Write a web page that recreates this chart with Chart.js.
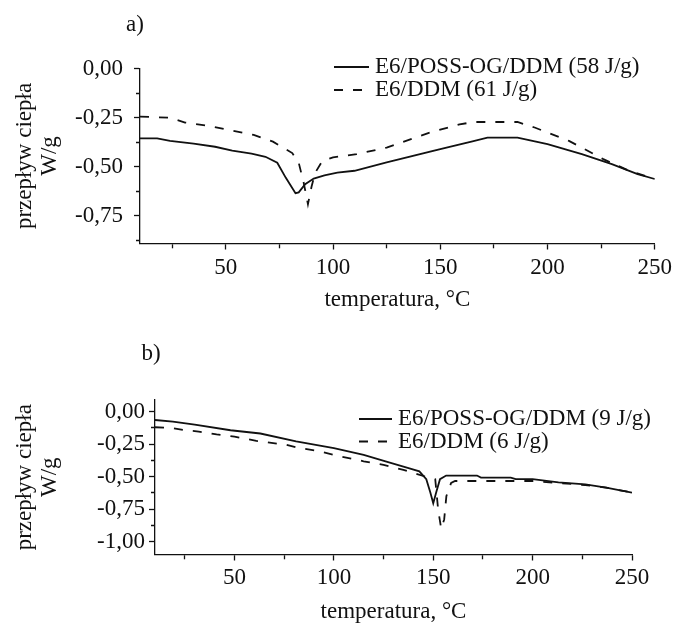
<!DOCTYPE html>
<html lang="pl">
<head>
<meta charset="utf-8">
<title>DSC – E6/POSS-OG/DDM i E6/DDM</title>
<script src="https://cdn.jsdelivr.net/npm/chart.js@4.4.1/dist/chart.umd.min.js"></script>
<style>
    html, body { margin: 0; padding: 0; background: #fff; }
    canvas { position: absolute; left: 0; display: block; }
    #chartA { top: 0; }
    #chartB { top: 320px; }
</style>
</head>
<body>
<canvas id="chartA" width="679" height="320"></canvas>
<canvas id="chartB" width="679" height="304"></canvas>

<script>
// ── Dane: panel a) ────────────────────────────────────────────────────────
const tempA_poss = [10, 18, 24, 35, 45, 53, 62, 68.5, 74, 78, 82.5, 84, 87, 91, 96, 102, 110, 125, 150, 165, 172, 186, 200, 216, 230, 242, 250];
const heatA_poss = [-0.355, -0.355, -0.368, -0.382, -0.398, -0.418, -0.433, -0.449, -0.479, -0.556, -0.634, -0.630, -0.588, -0.560, -0.543, -0.530, -0.520, -0.478, -0.410, -0.370, -0.352, -0.352, -0.385, -0.436, -0.486, -0.537, -0.562];

const tempA_ddm = [10, 24, 31, 41, 51, 63, 72, 81, 84, 86.3, 88.3, 90, 91.7, 95, 100, 111, 125, 145, 159, 166, 186, 194, 200, 210, 226, 238, 250];
const heatA_ddm = [-0.245, -0.250, -0.275, -0.290, -0.312, -0.338, -0.372, -0.430, -0.479, -0.580, -0.690, -0.600, -0.530, -0.470, -0.452, -0.436, -0.402, -0.326, -0.284, -0.272, -0.272, -0.300, -0.326, -0.368, -0.461, -0.520, -0.562];

const seriesA = ['E6/POSS-OG/DDM (58 J/g)', 'E6/DDM (61 J/g)'];

// ── Dane: panel b) ────────────────────────────────────────────────────────
const tempB_poss = [10, 19, 30, 48, 63, 81, 100, 115, 126, 138, 143, 146.5, 148.5, 150, 151.5, 153.4, 156.5, 172, 174, 189, 191.5, 200, 213, 226.5, 237, 250];
const heatB_poss = [-0.064, -0.076, -0.100, -0.143, -0.168, -0.228, -0.280, -0.333, -0.382, -0.436, -0.460, -0.520, -0.620, -0.705, -0.620, -0.520, -0.492, -0.492, -0.508, -0.508, -0.520, -0.520, -0.545, -0.560, -0.585, -0.623];

const tempB_ddm = [10, 19, 24, 32, 41, 50, 61, 76, 81, 91, 103, 115, 125, 135, 146, 151, 152.5, 154, 155.5, 156.6, 159, 161, 200, 211, 226.5, 237, 250];
const heatB_ddm = [-0.120, -0.127, -0.140, -0.153, -0.175, -0.192, -0.225, -0.255, -0.275, -0.300, -0.343, -0.382, -0.410, -0.448, -0.500, -0.520, -0.760, -0.900, -0.830, -0.650, -0.548, -0.534, -0.534, -0.547, -0.565, -0.585, -0.623];

const seriesB = ['E6/POSS-OG/DDM (9 J/g)', 'E6/DDM (6 J/g)'];

// ── Podziałki ─────────────────────────────────────────────────────────────
const tempTicks = [25, 50, 75, 100, 125, 150, 175, 200, 225, 250];
const heatTicksA = [0, -0.125, -0.25, -0.375, -0.5, -0.625, -0.75, -0.875];
const heatTicksB = [0, -0.125, -0.25, -0.375, -0.5, -0.625, -0.75, -0.875, -1];

const FONT = "'Liberation Serif', 'Times New Roman', serif";
const INK  = '#111';

const toPoints = (xs, ys) => xs.map((x, i) => ({ x, y: ys[i] }));
const isMajorT = v => v % 50 === 0;
const isMajorQ = v => Math.abs(v * 4 - Math.round(v * 4)) < 1e-9;
const fmtQ     = v => v.toFixed(2).replace('.', ',');

// Litera panelu i legenda rysowane wewnątrz obszaru wykresu
const panelText = {
    id: 'panelText',
    afterDraw(chart, args, o) {
        const ctx = chart.ctx;
        ctx.save();
        ctx.font = `23px ${FONT}`;
        ctx.fillStyle = INK;
        ctx.textBaseline = 'middle';
        ctx.textAlign = 'center';
        ctx.fillText(o.tag, o.tagX, o.tagY);

        ctx.textAlign = 'left';
        chart.data.datasets.forEach((ds, i) => {
            const y = o.keyY + i * o.keyGap;
            ctx.strokeStyle = ds.borderColor;
            ctx.lineWidth = ds.borderWidth;
            ctx.setLineDash(ds.borderDash || []);
            ctx.beginPath();
            ctx.moveTo(o.keyX, y);
            ctx.lineTo(o.keyX + o.keyLen, y);
            ctx.stroke();
            ctx.setLineDash([]);
            ctx.fillText(ds.label, o.keyX + o.keyLen + 6, y);
        });
        ctx.restore();
    }
};

// Krótsze kreski dla podziałki pomocniczej
const minorX = ctx => (ctx.tick && !isMajorT(ctx.tick.value)) ? [4, 20] : [];
const minorY = ctx => (ctx.tick && !isMajorQ(ctx.tick.value)) ? [0, 2, 4, 20] : [];

function buildChart(id, p) {
    return new Chart(document.getElementById(id), {
        type: 'line',
        data: {
            datasets: [
                { label: p.labels[0], data: toPoints(p.tPoss, p.qPoss), borderColor: INK, borderWidth: 1.8, pointRadius: 0, tension: 0, fill: false },
                { label: p.labels[1], data: toPoints(p.tDdm, p.qDdm), borderColor: INK, borderWidth: 1.8, borderDash: [9, 10], pointRadius: 0, tension: 0, fill: false }
            ]
        },
        options: {
            responsive: false,
            animation: false,
            events: [],
            layout: { padding: { top: p.top, right: p.right, left: 0, bottom: 0 } },
            plugins: {
                legend: { display: false },
                tooltip: { enabled: false },
                panelText: p.text
            },
            scales: {
                x: {
                    type: 'linear',
                    min: 10,
                    max: 250,
                    afterFit: s => { s.height = p.xAxisH; },
                    afterBuildTicks: s => { s.ticks = tempTicks.map(v => ({ value: v })); },
                    ticks: {
                        autoSkip: false,
                        maxRotation: 0,
                        padding: p.xPad,
                        color: INK,
                        font: { family: FONT, size: 23, lineHeight: 1 },
                        callback: v => isMajorT(v) ? String(v) : ''
                    },
                    grid: { drawOnChartArea: false, tickLength: 6, tickColor: INK, tickWidth: 1.3, tickBorderDash: minorX },
                    border: { display: true, color: INK, width: 1.3 },
                    title: {
                        display: true,
                        text: 'temperatura, °C',
                        color: INK,
                        font: { family: FONT, size: 23, lineHeight: 1 },
                        padding: { top: 0, bottom: p.titlePad }
                    }
                },
                y: {
                    type: 'linear',
                    min: p.yMin,
                    max: p.yMax,
                    afterFit: s => { s.width = p.yAxisW; },
                    afterBuildTicks: s => { s.ticks = p.yTicks.map(v => ({ value: v })); },
                    ticks: {
                        autoSkip: false,
                        padding: p.yPad,
                        color: INK,
                        font: { family: FONT, size: 23, lineHeight: 1 },
                        callback: v => isMajorQ(v) ? fmtQ(v) : ''
                    },
                    grid: { drawOnChartArea: false, tickLength: 6, tickColor: INK, tickWidth: 1.3, tickBorderDash: minorY },
                    border: { display: true, color: INK, width: 1.3 },
                    title: {
                        display: true,
                        text: ['przepływ ciepła', 'W/g'],
                        color: INK,
                        font: { family: FONT, size: 23, lineHeight: 1.1 },
                        padding: { top: 12, bottom: 0 }
                    }
                }
            }
        },
        plugins: [panelText]
    });
}

// ── Panel a) ──────────────────────────────────────────────────────────────
buildChart('chartA', {
    tPoss: tempA_poss, qPoss: heatA_poss,
    tDdm: tempA_ddm,   qDdm: heatA_ddm,
    labels: seriesA,
    yTicks: heatTicksA, yMin: -0.89, yMax: 0,
    top: 68.5, right: 20, xAxisH: 76.5, yAxisW: 140,
    xPad: 7, yPad: 11, titlePad: 8.5,
    text: { tag: 'a)', tagX: 135, tagY: 25, keyX: 334, keyY: 67, keyGap: 23, keyLen: 35 }
});

// ── Panel b) ──────────────────────────────────────────────────────────────
buildChart('chartB', {
    tPoss: tempB_poss, qPoss: heatB_poss,
    tDdm: tempB_ddm,   qDdm: heatB_ddm,
    labels: seriesB,
    yTicks: heatTicksB, yMin: -1.1, yMax: 0.09,
    top: 80, right: 47, xAxisH: 69.5, yAxisW: 155,
    xPad: 6, yPad: 4, titlePad: 0.5,
    text: { tag: 'b)', tagX: 151, tagY: 34, keyX: 359, keyY: 99, keyGap: 22.5, keyLen: 33 }
});
</script>
</body>
</html>
